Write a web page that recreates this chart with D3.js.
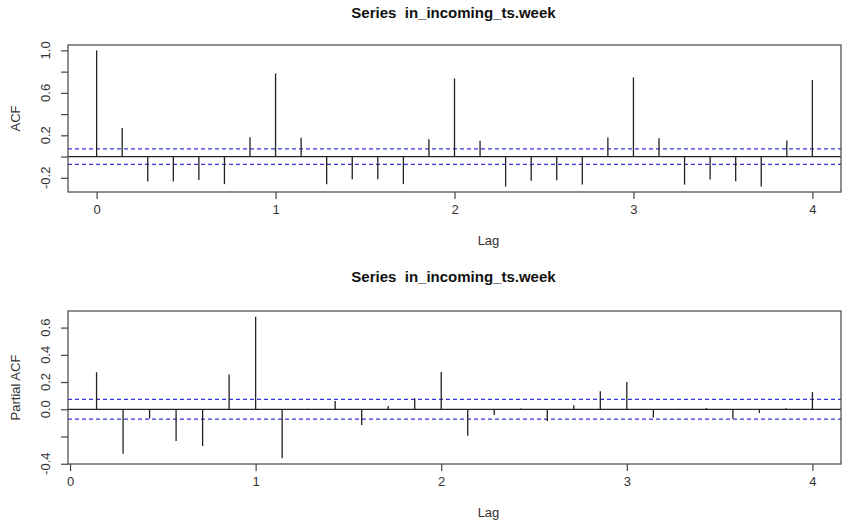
<!DOCTYPE html>
<meta charset="utf-8">

<!-- Load d3.js -->
<script src="https://d3js.org/d3.v7.min.js"></script>

<div id="my_dataviz"></div>

<style>
    body {
        margin: 0;
        background: #fff;
        font-family: 'Liberation Sans', 'Arial', sans-serif;
    }
</style>

<script>
    // lags are in weeks (frequency 7), so lag k sits at k/7
    var acfLags = d3.range(0, 29).map(function(k) { return k / 7; });
    var pacfLags = d3.range(1, 29).map(function(k) { return k / 7; });

    // values
    var acfValues = [1.0, 0.27, -0.236, -0.236, -0.22, -0.26, 0.183, 0.783, 0.176, -0.26,
        -0.213, -0.213, -0.26, 0.164, 0.736, 0.148, -0.283, -0.229, -0.223, -0.264,
        0.18, 0.745, 0.173, -0.264, -0.216, -0.232, -0.283, 0.151, 0.72];
    var pacfValues = [0.272, -0.326, -0.068, -0.233, -0.27, 0.255, 0.68, -0.36, 0.004, 0.06,
        -0.115, 0.025, 0.081, 0.274, -0.194, -0.042, 0.005, -0.086, 0.029, 0.132,
        0.201, -0.061, 0.003, 0.01, -0.069, -0.027, 0.008, 0.127];

    var confBound = 0.073;
    var xTicks = [0, 1, 2, 3, 4];
    var acfTicks = [-0.2, 0, 0.2, 0.4, 0.6, 0.8, 1.0];
    var acfTickLabels = [-0.2, 0.2, 0.6, 1.0];
    var pacfTicks = [-0.4, -0.2, 0, 0.2, 0.4, 0.6];
    var pacfTickLabels = [-0.4, 0.0, 0.2, 0.4, 0.6];

    var width = 848, height = 526;

    var svg = d3.select("#my_dataviz")
        .append("svg")
        .attr("width", width)
        .attr("height", height);

    // draws one correlogram panel
    function drawPanel(opts) {
        var x = d3.scaleLinear().domain(opts.xDomain).range([opts.left, opts.right]);
        var y = d3.scaleLinear().domain(opts.yDomain).range([opts.bottom, opts.top]);
        var g = svg.append("g");

        // title
        g.append("text")
            .attr("x", (opts.left + opts.right) / 2 - 1)
            .attr("y", opts.titleY)
            .style("text-anchor", "middle")
            .style("font-weight", "bold")
            .style("font-size", "15px")
            .style("fill", "#111")
            .attr("xml:space", "preserve")
            .text("Series  in_incoming_ts.week");

        // confidence limits
        [confBound, -confBound].forEach(function(c) {
            g.append("line")
                .attr("x1", opts.left).attr("x2", opts.right)
                .attr("y1", y(c)).attr("y2", y(c))
                .style("stroke", "#3333dd")
                .style("stroke-width", 1.2)
                .style("stroke-dasharray", "4,3");
        });

        // zero line
        g.append("line")
            .attr("x1", opts.left).attr("x2", opts.right)
            .attr("y1", y(0)).attr("y2", y(0))
            .style("stroke", "#222")
            .style("stroke-width", 1.2);

        // spikes
        g.selectAll("line.spike")
            .data(opts.lags)
            .enter()
            .append("line")
            .attr("class", "spike")
            .attr("x1", function(d) { return x(d); })
            .attr("x2", function(d) { return x(d); })
            .attr("y1", y(0))
            .attr("y2", function(d, i) { return y(opts.values[i]); })
            .style("stroke", "#222")
            .style("stroke-width", 1.3);

        // box
        g.append("rect")
            .attr("x", opts.left).attr("y", opts.top)
            .attr("width", opts.right - opts.left)
            .attr("height", opts.bottom - opts.top)
            .style("fill", "none")
            .style("stroke", "#444")
            .style("stroke-width", 1.2);

        // x axis
        var xAxis = g.append("g")
            .attr("transform", "translate(0," + opts.bottom + ")")
            .call(d3.axisBottom(x).tickValues(xTicks).tickSize(7).tickPadding(6).tickFormat(d3.format("d")));
        xAxis.select(".domain").remove();
        xAxis.selectAll("line").style("stroke", "#444").style("stroke-width", 1.2);
        xAxis.selectAll("text").style("font-size", "13px").style("fill", "#333")
            .style("font-family", "'Liberation Sans', Arial, sans-serif");

        // y axis, labels run along the axis like R's default
        var yAxis = g.append("g")
            .attr("transform", "translate(" + opts.left + ",0)")
            .call(d3.axisLeft(y).tickValues(opts.yTicks).tickSize(7).tickFormat(""));
        yAxis.select(".domain").remove();
        yAxis.selectAll("line").style("stroke", "#444").style("stroke-width", 1.2);

        g.selectAll("text.ylab")
            .data(opts.yLabels)
            .enter()
            .append("text")
            .attr("class", "ylab")
            .attr("transform", function(d) { return "translate(" + (opts.left - 18) + "," + y(d) + ") rotate(-90)"; })
            .style("text-anchor", "middle")
            .style("font-size", "13px")
            .style("fill", "#333")
            .text(function(d) { return d3.format(".1f")(d).replace("−", "-"); });

        // axis titles
        g.append("text")
            .attr("x", (opts.left + opts.right) / 2 + 34)
            .attr("y", opts.bottom + 53)
            .style("text-anchor", "middle")
            .style("font-size", "13px")
            .style("fill", "#333")
            .text("Lag");

        g.append("text")
            .attr("transform", "translate(20," + (opts.top + opts.bottom) / 2 + ") rotate(-90)")
            .style("text-anchor", "middle")
            .style("font-size", "13px")
            .style("fill", "#333")
            .text(opts.yTitle);
    }

    drawPanel({
        lags: acfLags, values: acfValues,
        xDomain: [-0.16, 4.16], yDomain: [-0.334, 1.051],
        left: 68, right: 841, top: 45, bottom: 192,
        titleY: 18, yTicks: acfTicks, yLabels: acfTickLabels, yTitle: "ACF"
    });

    drawPanel({
        lags: pacfLags, values: pacfValues,
        xDomain: [-0.011, 4.154], yDomain: [-0.402, 0.722],
        left: 68, right: 841, top: 311, bottom: 464,
        titleY: 282, yTicks: pacfTicks, yLabels: pacfTickLabels, yTitle: "Partial ACF"
    });
</script>
